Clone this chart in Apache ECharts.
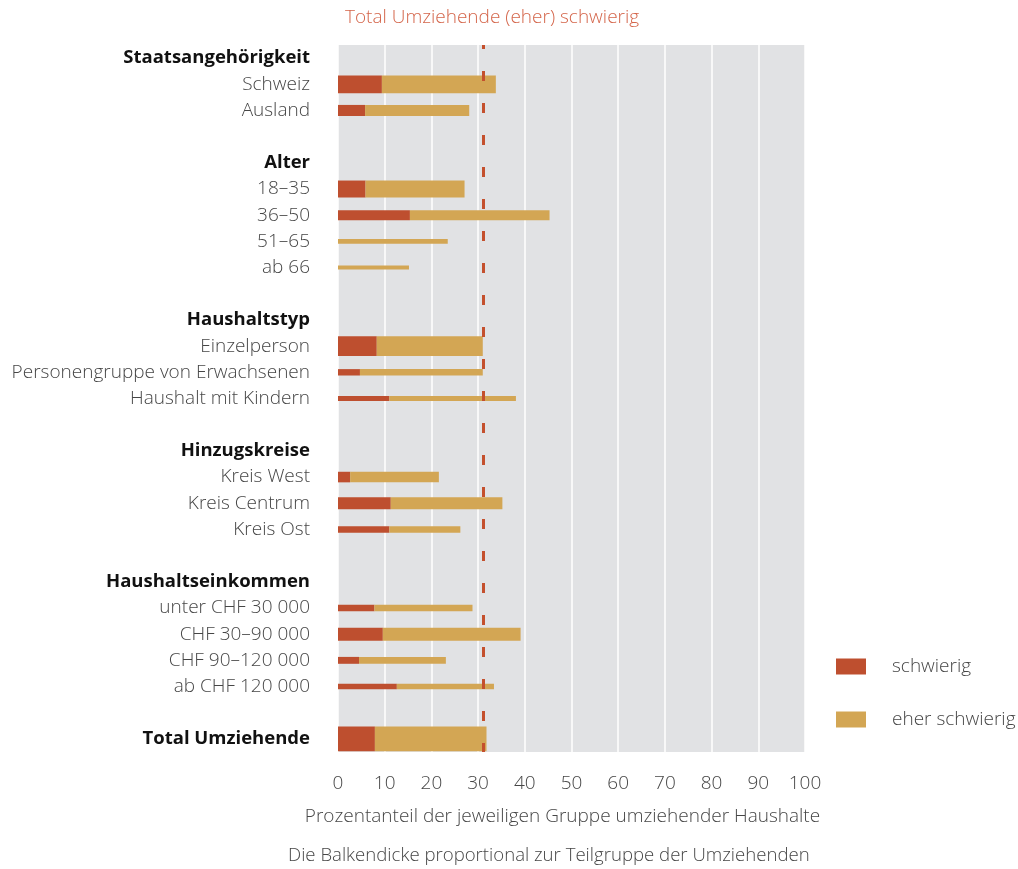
<!DOCTYPE html>
<html>
<head>
<meta charset="utf-8">
<script src="https://cdn.jsdelivr.net/npm/echarts@6/dist/echarts.min.js"></script>
<style>html,body{margin:0;padding:0;background:#fff}#c{width:1018px;height:869px}</style>
</head>
<body>
<div id="c"></div>
<script>
// ---- data ----
const categories = ['Staatsangehörigkeit','Schweiz','Ausland',' ','Alter','18–35','36–50','51–65','ab 66','  ',
  'Haushaltstyp','Einzelperson','Personengruppe von Erwachsenen','Haushalt mit Kindern','   ',
  'Hinzugskreise','Kreis West','Kreis Centrum','Kreis Ost','    ',
  'Haushaltseinkommen','unter CHF 30 000','CHF 30–90 000','CHF 90–120 000','ab CHF 120 000','     ',
  'Total Umziehende'];
const headers = ['Staatsangehörigkeit','Alter','Haushaltstyp','Hinzugskreise','Haushaltseinkommen','Total Umziehende'];
// percentages
const schwierig =      [null, 9.4, 5.8, null, null, 5.9, 15.4, 0, 0, null, null, 8.3, 4.7, 11.0, null, null, 2.6, 11.3, 11.0, null, null, 7.8, 9.6, 4.5, 12.6, null, 7.9];
const eherSchwierig =  [null, 24.4, 22.3, null, null, 21.2, 29.9, 23.5, 15.2, null, null, 22.7, 26.3, 27.1, null, null, 19.0, 23.9, 15.2, null, null, 21.0, 29.5, 18.6, 20.8, null, 23.9];
// relative bar thickness (subgroup weight, Total = 100)
const thickness =      [null, 72, 45, null, null, 69, 41, 19, 16, null, null, 81, 26, 20, null, null, 43, 48, 26, null, null, 26, 53, 28, 23, null, 100];
const totalLine = 31.2;
const xTicks = [0,10,20,30,40,50,60,70,80,90,100];

const RED = '#BE4F2F', GOLD = '#D3A654';
const FONT = '"Open Sans", "Noto Sans", sans-serif';
const TXT = '#464646';
const FS = 19;

const redData = [], goldData = [];
categories.forEach((c, i) => {
  if (schwierig[i] === null) return;
  redData.push([i, schwierig[i], thickness[i]]);
  goldData.push([i, schwierig[i], eherSchwierig[i], thickness[i]]);
});

function rectItem(api, start, end, idx, w, color) {
  const p0 = api.coord([start, idx]);
  const p1 = api.coord([end, idx]);
  const h = api.size([0, 1])[1] * 0.94 * w / 100;
  return {type: 'rect', shape: {x: p0[0], y: p0[1] - h / 2, width: Math.max(p1[0] - p0[0], 0), height: h},
    style: {fill: color}};
}

const chart = echarts.init(document.getElementById('c'), null, {renderer: 'canvas'});
chart.setOption({
  backgroundColor: '#fff',
  animation: false,
  textStyle: {fontFamily: FONT, fontWeight: 300},
  grid: {left: 338, right: 213, top: 45, height: 707, show: true, backgroundColor: '#E1E2E4', borderWidth: 0},
  legend: {
    data: ['schwierig', 'eher schwierig'],
    orient: 'vertical', left: 831, top: 652,
    itemWidth: 30, itemHeight: 16, itemGap: 34,
    icon: 'rect',
    textStyle: {fontSize: FS, color: TXT, fontFamily: FONT, fontWeight: 300, padding: [0, 0, 0, 21]}
  },
  xAxis: {
    type: 'value', min: 0, max: 100, interval: 10,
    axisLine: {show: false}, axisTick: {show: false},
    splitLine: {show: true, lineStyle: {color: '#fff', width: 1.5}},
    axisLabel: {fontSize: FS, color: TXT, margin: 22, fontFamily: FONT, fontWeight: 300,
      formatter: v => xTicks.indexOf(v) >= 0 ? String(v) : ''},
    name: 'Prozentanteil der jeweiligen Gruppe umziehender Haushalte',
    nameLocation: 'middle', nameGap: 55,
    nameTextStyle: {fontSize: FS, color: TXT, fontFamily: FONT, fontWeight: 300, padding: [0, 18, 0, 0]}
  },
  yAxis: {
    type: 'category', data: categories, inverse: true,
    axisLine: {show: false}, axisTick: {show: false}, splitLine: {show: false},
    axisLabel: {
      margin: 28, fontSize: FS, color: TXT, fontFamily: FONT, fontWeight: 300,
      formatter: v => headers.indexOf(v) >= 0 ? '{h|' + v + '}' : v,
      rich: {h: {fontWeight: 'bold', color: '#111', fontSize: 18.5, fontFamily: FONT}}
    }
  },
  graphic: [
    {type: 'text', left: 345, top: 8, style: {text: 'Total Umziehende (eher) schwierig', fill: '#D4654A', fontSize: FS, fontFamily: FONT, fontWeight: 300}},
    {type: 'text', left: 288, top: 846, style: {text: 'Die Balkendicke proportional zur Teilgruppe der Umziehenden', fill: TXT, fontSize: 18.6, fontFamily: FONT, fontWeight: 300}}
  ],
  series: [
    {
      name: 'schwierig', type: 'custom', itemStyle: {color: RED},
      encode: {x: 1, y: 0},
      renderItem: (params, api) => rectItem(api, 0, api.value(1), api.value(0), api.value(2), RED),
      data: redData, z: 3
    },
    {
      name: 'eher schwierig', type: 'custom', itemStyle: {color: GOLD},
      encode: {x: [1, 2], y: 0},
      renderItem: (params, api) => rectItem(api, api.value(1), api.value(1) + api.value(2), api.value(0), api.value(3), GOLD),
      data: goldData, z: 3
    },
    {
      name: 'line', type: 'line', data: [], silent: true,
      markLine: {
        silent: true, symbol: 'none', z: 10,
        label: {show: false},
        lineStyle: {color: '#C4502D', width: 3, type: [10, 22], dashOffset: 6},
        data: [{xAxis: totalLine}]
      }
    }
  ]
});
</script>
</body>
</html>
